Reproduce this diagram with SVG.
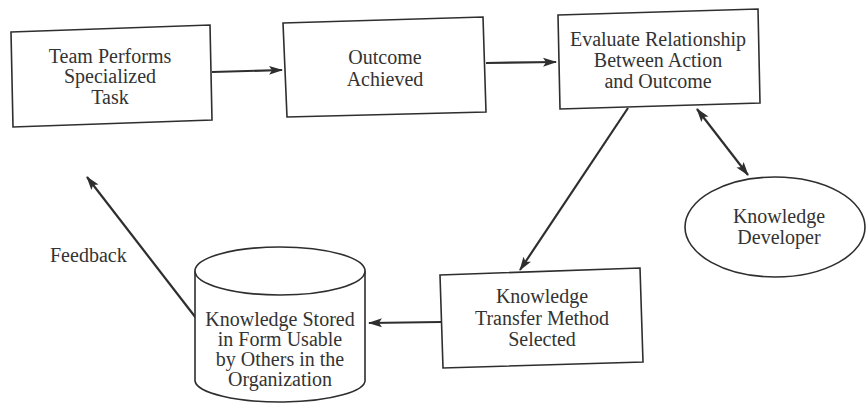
<svg xmlns="http://www.w3.org/2000/svg" width="867" height="405" viewBox="0 0 867 405">
  <style>
    .shape { fill: #fff; stroke: #2e2e2e; stroke-width: 1.6; }
    .label { font-family: "Liberation Serif", "Times New Roman", serif; font-size: 20px; fill: #333; text-anchor: middle; }
    .free { text-anchor: start; }
    .edge { fill: none; stroke: #2e2e2e; stroke-width: 2.2; }
  </style>
  <defs>
    <marker id="head" markerUnits="userSpaceOnUse" markerWidth="14" markerHeight="10" refX="13" refY="5" orient="auto-start-reverse">
      <path d="M0,0.5 L14,5 L0,9.5 L3,5 Z" fill="#2e2e2e"/>
    </marker>
  </defs>
  <rect width="867" height="405" fill="#fff"/>

  <!-- connectors -->
  <g id="connectors">
    <line class="edge" x1="212" y1="72" x2="282" y2="70" marker-end="url(#head)"/>
    <line class="edge" x1="486" y1="63" x2="556" y2="62" marker-end="url(#head)"/>
    <line class="edge" x1="628" y1="108" x2="520" y2="270" marker-end="url(#head)"/>
    <line class="edge" x1="697" y1="109" x2="748" y2="175" marker-start="url(#head)" marker-end="url(#head)"/>
    <line class="edge" x1="441" y1="322" x2="369" y2="323" marker-end="url(#head)"/>
    <line class="edge" x1="196" y1="318" x2="87" y2="177" marker-end="url(#head)"/>
  </g>

  <g id="team-task">
    <polygon class="shape" points="11,32 210,25 212,120 13,127"/>
    <text class="label" x="110" y="63">Team Performs</text>
    <text class="label" x="110" y="83">Specialized</text>
    <text class="label" x="110" y="104">Task</text>
  </g>

  <g id="outcome">
    <polygon class="shape" points="283,23 483,17 486,112 287,117"/>
    <text class="label" x="385" y="64">Outcome</text>
    <text class="label" x="385" y="86">Achieved</text>
  </g>

  <g id="evaluate">
    <polygon class="shape" points="558,15 758,9 760,103 560,109"/>
    <text class="label" x="658" y="46">Evaluate Relationship</text>
    <text class="label" x="658" y="67">Between Action</text>
    <text class="label" x="658" y="88">and Outcome</text>
  </g>

  <g id="developer">
    <ellipse class="shape" cx="775" cy="227" rx="90" ry="50"/>
    <text class="label" x="779" y="223">Knowledge</text>
    <text class="label" x="779" y="244">Developer</text>
  </g>

  <g id="transfer">
    <polygon class="shape" points="440,275 640,268 643,362 443,368"/>
    <text class="label" x="542" y="303">Knowledge</text>
    <text class="label" x="542" y="325">Transfer Method</text>
    <text class="label" x="542" y="346">Selected</text>
  </g>

  <g id="store">
    <path class="shape" d="M195,271 L195,381 A85,22 0 0 0 365,379 L365,271 A85,24 0 0 0 195,271 Z"/>
    <path class="shape" fill="none" d="M195,271 A85,24 0 0 0 365,271"/>
    <text class="label" x="280" y="326">Knowledge Stored</text>
    <text class="label" x="280" y="346">in Form Usable</text>
    <text class="label" x="280" y="366">by Others in the</text>
    <text class="label" x="280" y="386">Organization</text>
  </g>

  <text class="label free" x="50" y="262">Feedback</text>
</svg>
